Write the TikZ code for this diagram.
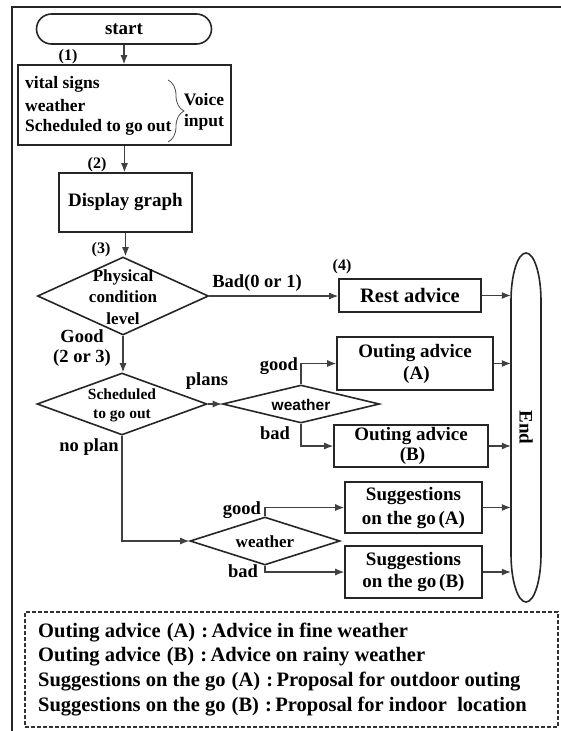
\documentclass[tikz,border=0pt]{standalone}
\usepackage{fontspec}
\setmainfont{Liberation Serif}
\newfontfamily\arialf{Liberation Sans}
\usetikzlibrary{shapes.geometric,arrows.meta,decorations.pathreplacing}
\newcommand{\lp}{\hspace{0.15em}(}
\newcommand{\rp}{)\hspace{0.15em}}
\newcommand{\llp}{\hspace{0.3em}(}
\newcommand{\lrp}{)\hspace{0.3em}}
\begin{document}
\begin{tikzpicture}[x=1pt,y=-1pt,
  box/.style={draw=black!85, line width=1.6pt, inner sep=0pt, align=center},
  dia/.style={draw=black!85, diamond, aspect=1, line width=1.6pt, inner sep=0pt},
  arr/.style={draw=black!75, line width=1.1pt, -{Latex[length=9pt,width=7pt]}},
  tmain/.style={font=\bfseries\fontsize{19}{22}\selectfont, inner sep=0pt, align=center},
  tin/.style={font=\bfseries\fontsize{17.5}{20}\selectfont, inner sep=0pt},
  tlab/.style={font=\bfseries\fontsize{18.5}{20}\selectfont, inner sep=0pt},
  tnum/.style={font=\bfseries\fontsize{16}{18}\selectfont, inner sep=0pt},
  tleg/.style={font=\bfseries\fontsize{20.5}{22}\selectfont, inner sep=0pt, anchor=west},
]
\useasboundingbox (0,0) rectangle (560,731);
% outer frame
\draw[line width=2.5pt, black!85] (12,731) -- (12,7) -- (561,7);

% start
\node[box, rounded corners=15pt, minimum width=175pt, minimum height=30pt, tmain] (start) at (124,29) {start};
\node[tnum] (n1) at (68,57) {(1)};

% input box
\node[box, minimum width=213pt, minimum height=80pt] (input) at (124.5,105) {};
\node[tin, anchor=west] (in1) at (25,84) {vital signs};
\node[tin, anchor=west] (in2) at (25,106) {weather};
\node[tin, anchor=west] (in3) at (25,127) {Scheduled to go out};
\draw[decorate, decoration={brace, amplitude=16pt}, line width=0.8pt, black!70] (168,80) -- (168,142);
\node[tin] (voice) at (204,100) {Voice};
\node[tin] (inp) at (204,122) {input};

% display
\node[tnum] (n2) at (97,165) {(2)};
\node[box, minimum width=133pt, minimum height=59pt, tmain] (disp) at (125.5,202.5) {Display graph};

% decision 1
\node[tnum] (n3) at (101,250) {(3)};
\node[dia, minimum width=171pt, minimum height=78pt] (d1) at (123,296) {};
\node[font=\bfseries\fontsize{17}{21.5}\selectfont, inner sep=0pt, align=center] (d1t) at (123,297) {Physical\\condition\\level};

% rest advice
\node[tnum] (n4) at (342,267) {(4)};
\node[box, minimum width=142pt, minimum height=33pt, font=\bfseries\fontsize{20.5}{22}\selectfont] (rest) at (410,295.5) {Rest advice};
\node[tlab] (lbad1) at (257,283) {Bad(0 or 1)};

% decision 2
\node[tlab] (lgood1) at (82,336) {Good};
\node[tlab] (lgood2) at (82,358) {(2 or 3)};
\node[dia, minimum width=170pt, minimum height=62pt] (d2) at (122,404) {};
\node[font=\bfseries\fontsize{15.5}{19}\selectfont, inner sep=0pt, align=center] (d2t) at (122,405) {Scheduled\\to go out};
\node[tlab] (lplans) at (207,381) {plans};
\node[tlab] (lnoplan) at (89,447) {no plan};

% weather 1
\node[dia, minimum width=157pt, minimum height=38pt] (w1) at (301,404) {};
\node[font=\arialf\bfseries\fontsize{15.5}{18}\selectfont, inner sep=0pt] (w1t) at (301,405) {weather};
\node[tlab] (lg1) at (279,366) {good};
\node[tlab] (lb1) at (275,433) {bad};
\node[box, minimum width=156pt, minimum height=53pt, tmain] (outA) at (415,363.5) {Outing advice\\\lp A\rp};
\node[box, minimum width=154pt, minimum height=42pt, font=\bfseries\fontsize{19}{20}\selectfont] (outB) at (411,446) {Outing advice\\\lp B\rp};

% weather 2
\node[dia, minimum width=150pt, minimum height=48pt] (w2) at (265,541) {};
\node[font=\bfseries\fontsize{17}{19}\selectfont, inner sep=0pt] (w2t) at (265,542) {weather};
\node[tlab] (lg2) at (242,510) {good};
\node[tlab] (lb2) at (243,571) {bad};
\node[box, minimum width=137pt, minimum height=51pt, font=\bfseries\fontsize{19}{24}\selectfont] (sA) at (413.5,507.5) {Suggestions\\on the go\lp A\rp};
\node[box, minimum width=137pt, minimum height=52pt, font=\bfseries\fontsize{19}{22}\selectfont] (sB) at (413.5,572) {Suggestions\\on the go\lp B\rp};

% End
\node[minimum width=30pt, minimum height=349pt, inner sep=0pt] (end) at (526,427.5) {};
\draw[line width=1.6pt, black!85] (511,301) -- (511,554) arc[start angle=180, end angle=0, x radius=15, y radius=48]
  -- (541,301) arc[start angle=0, end angle=-180, x radius=15, y radius=48] -- cycle;
\node[rotate=-90, tmain] (endt) at (end.center) {End};

% connectors
\draw[arr] (start.south) -- (start.south |- input.north);
\draw[arr] (input.south) -- (input.south |- disp.north);
\draw[arr] (disp.south) -- (disp.south |- d1.north);
\draw[arr] (d1.east) -- (d1.east -| rest.west);
\draw[arr] (rest.east) -- (rest.east -| end.west);
\draw[arr] (d1.south) -- (d1.south |- d2.north);
\draw[arr] (d2.east) -- (w1.west);
\draw[arr] (w1.north) |- (outA.west);
\draw[arr] (w1.south) |- (outB.west);
\draw[arr] (outA.east) -- (outA.east -| end.west);
\draw[arr] (outB.east) -- (outB.east -| end.west);
\draw[arr] (d2.south) |- (w2.west);
\draw[arr] (w2.north) |- (sA.west);
\draw[arr] (w2.south) |- (sB.west);
\draw[arr] (sA.east) -- (sA.east -| end.west);
\draw[arr] (sB.east) -- (sB.east -| end.west);

% legend
\node[draw=black!80, dashed, dash pattern=on 4pt off 2pt, line width=1.1pt, minimum width=533pt, minimum height=115pt, inner sep=0pt] (legend) at (291.5,669.5) {};
\node[tleg] (lg1t) at (38,633) {Outing advice\llp A\lrp{}:\,Advice in fine weather};
\node[tleg] (lg2t) at (38,657) {Outing advice\llp B\lrp{}:\,Advice on rainy weather};
\node[tleg] (lg3t) at (38,682) {Suggestions on the go\llp A\lrp{}:\,Proposal for outdoor outing};
\node[tleg] (lg4t) at (38,707) {Suggestions on the go\llp B\lrp{}:\,Proposal for indoor~~location};
\end{tikzpicture}
\end{document}
